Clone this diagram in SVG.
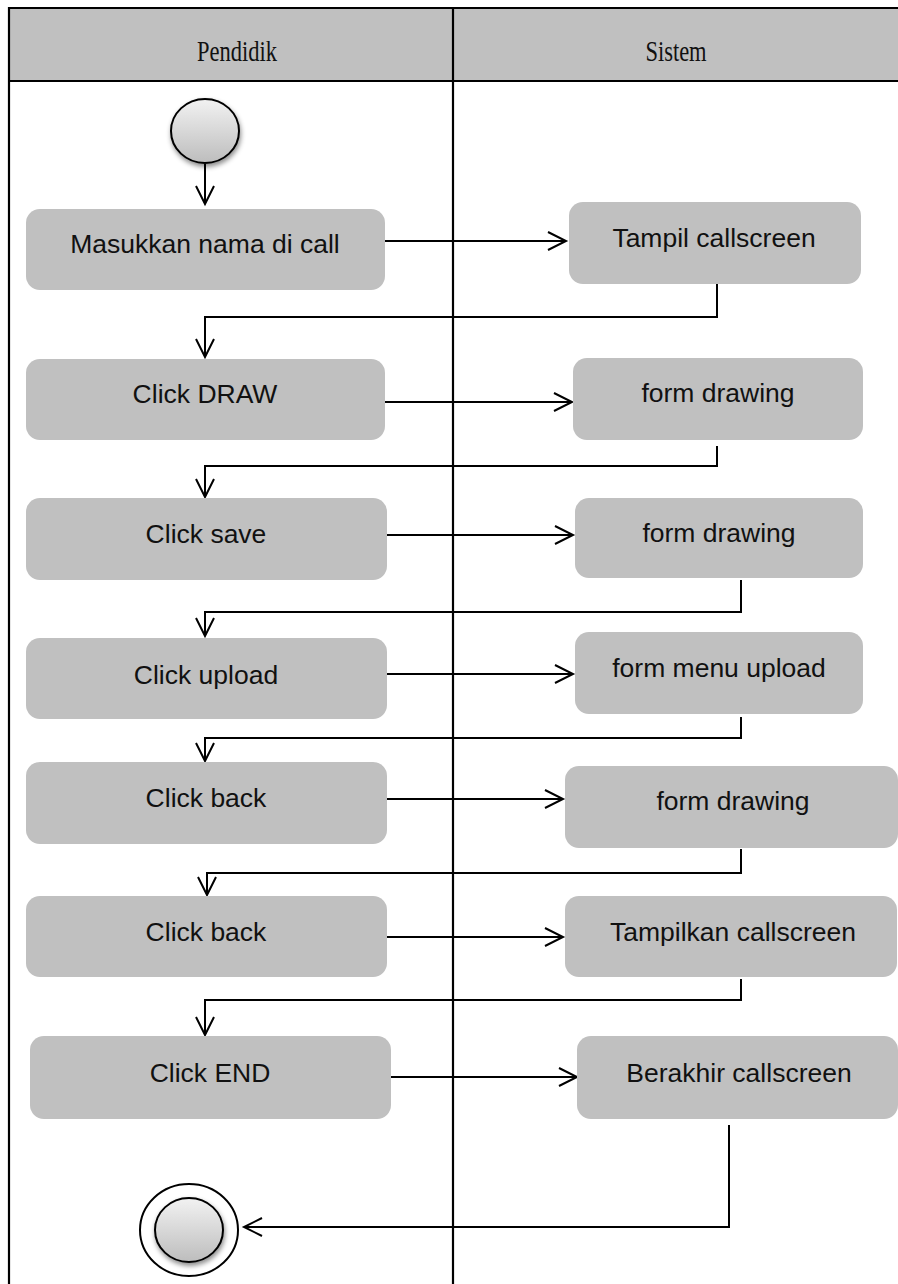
<svg xmlns="http://www.w3.org/2000/svg" width="898" height="1284" viewBox="0 0 898 1284">
  <style>
    .lane { fill: none; stroke: #000; stroke-width: 2.2; }
    .head { fill: #c0c0c0; }
    .hdr { font-family: "Liberation Serif", "Times New Roman", serif; font-size: 22.5px; fill: #111; text-anchor: middle; }
    .act rect { fill: #c0c0c0; }
    .act text { font-family: "Liberation Sans", Arial, sans-serif; font-size: 26.5px; fill: #111; text-anchor: middle; }
    .flow { fill: none; stroke: #000; stroke-width: 2; }
    .state { stroke: #000; stroke-width: 2; fill: url(#ball); filter: url(#shadow); }
  </style>
  <defs>
    <linearGradient id="ball" x1="0" y1="0" x2="0" y2="1">
      <stop offset="0" stop-color="#f2f2f2"/>
      <stop offset="1" stop-color="#bdbdbd"/>
    </linearGradient>
    <filter id="shadow" x="-30%" y="-30%" width="160%" height="170%">
      <feDropShadow dx="1" dy="3" stdDeviation="2.5" flood-color="#000" flood-opacity="0.45"/>
    </filter>
    <marker id="open" viewBox="-2 -2 22 22" refX="18" refY="9" markerWidth="22" markerHeight="22" markerUnits="userSpaceOnUse" orient="auto" overflow="visible">
      <path d="M0,0 L18,9 L0,18" fill="none" stroke="#000" stroke-width="2"/>
    </marker>
  </defs>

  <!-- swimlane frame -->
  <g id="swimlanes">
    <rect class="head" x="9" y="8" width="889" height="73"/>
    <line class="lane" x1="9" y1="8" x2="898" y2="8"/>
    <line class="lane" x1="9" y1="81" x2="898" y2="81"/>
    <line class="lane" x1="9" y1="7" x2="9" y2="1284"/>
    <line class="lane" x1="453" y1="7" x2="453" y2="1284"/>
    <!-- lane titles, drawn a little taller than wide -->
    <g transform="translate(0,61) scale(1,1.3)">
      <text class="hdr" x="237" y="0">Pendidik</text>
      <text class="hdr" x="676" y="0">Sistem</text>
    </g>
  </g>

  <!-- connectors -->
  <g id="connectors">
    <line class="flow" x1="205" y1="164" x2="205" y2="204" marker-end="url(#open)"/>

    <line class="flow" x1="385" y1="241" x2="566" y2="241" marker-end="url(#open)"/>
    <polyline class="flow" points="717,283 717,317 205,317 205,357" marker-end="url(#open)"/>

    <line class="flow" x1="385" y1="402" x2="572" y2="402" marker-end="url(#open)"/>
    <polyline class="flow" points="717,446 717,466 205,466 205,497" marker-end="url(#open)"/>

    <line class="flow" x1="387" y1="535" x2="573" y2="535" marker-end="url(#open)"/>
    <polyline class="flow" points="741,580 741,612 205,612 205,636" marker-end="url(#open)"/>

    <line class="flow" x1="387" y1="674" x2="573" y2="674" marker-end="url(#open)"/>
    <polyline class="flow" points="741,717 741,738 205,738 205,761" marker-end="url(#open)"/>

    <line class="flow" x1="387" y1="799" x2="563" y2="799" marker-end="url(#open)"/>
    <polyline class="flow" points="741,849 741,873 207,873 207,895" marker-end="url(#open)"/>

    <line class="flow" x1="387" y1="937" x2="563" y2="937" marker-end="url(#open)"/>
    <polyline class="flow" points="741,979 741,1000 205,1000 205,1035" marker-end="url(#open)"/>

    <line class="flow" x1="391" y1="1077" x2="577" y2="1077" marker-end="url(#open)"/>
    <polyline class="flow" points="729,1125 729,1227 244,1227" marker-end="url(#open)"/>
  </g>

  <!-- initial state -->
  <g id="start">
    <ellipse class="state" cx="205" cy="131" rx="34" ry="32"/>
  </g>

  <!-- Pendidik actions -->
  <g id="masukkan-nama" class="act">
    <rect x="26" y="209" width="359" height="81" rx="14"/>
    <text x="205" y="253">Masukkan nama di call</text>
  </g>
  <g id="click-draw" class="act">
    <rect x="26" y="359" width="359" height="81" rx="14"/>
    <text x="205" y="403">Click DRAW</text>
  </g>
  <g id="click-save" class="act">
    <rect x="26" y="498" width="361" height="82" rx="14"/>
    <text x="206" y="543">Click save</text>
  </g>
  <g id="click-upload" class="act">
    <rect x="26" y="638" width="361" height="81" rx="14"/>
    <text x="206" y="684">Click upload</text>
  </g>
  <g id="click-back-1" class="act">
    <rect x="26" y="762" width="361" height="82" rx="14"/>
    <text x="206" y="807">Click back</text>
  </g>
  <g id="click-back-2" class="act">
    <rect x="26" y="896" width="361" height="81" rx="14"/>
    <text x="206" y="941">Click back</text>
  </g>
  <g id="click-end" class="act">
    <rect x="30" y="1036" width="361" height="83" rx="14"/>
    <text x="210" y="1082">Click END</text>
  </g>

  <!-- Sistem actions -->
  <g id="tampil-callscreen" class="act">
    <rect x="569" y="202" width="292" height="82" rx="14"/>
    <text x="714" y="247">Tampil callscreen</text>
  </g>
  <g id="form-drawing-1" class="act">
    <rect x="573" y="358" width="290" height="82" rx="14"/>
    <text x="718" y="402">form drawing</text>
  </g>
  <g id="form-drawing-2" class="act">
    <rect x="575" y="498" width="288" height="80" rx="14"/>
    <text x="719" y="542">form drawing</text>
  </g>
  <g id="form-menu-upload" class="act">
    <rect x="575" y="632" width="288" height="82" rx="14"/>
    <text x="719" y="677">form menu upload</text>
  </g>
  <g id="form-drawing-3" class="act">
    <rect x="565" y="766" width="333" height="82" rx="14"/>
    <text x="733" y="810">form drawing</text>
  </g>
  <g id="tampilkan-callscreen" class="act">
    <rect x="565" y="896" width="332" height="81" rx="14"/>
    <text x="733" y="941">Tampilkan callscreen</text>
  </g>
  <g id="berakhir-callscreen" class="act">
    <rect x="577" y="1036" width="321" height="83" rx="14"/>
    <text x="739" y="1082">Berakhir callscreen</text>
  </g>

  <!-- final state -->
  <g id="end">
    <ellipse cx="189" cy="1230" rx="49" ry="46" fill="#fff" stroke="#000" stroke-width="2"/>
    <ellipse class="state" cx="189" cy="1230" rx="34" ry="32"/>
  </g>
</svg>
